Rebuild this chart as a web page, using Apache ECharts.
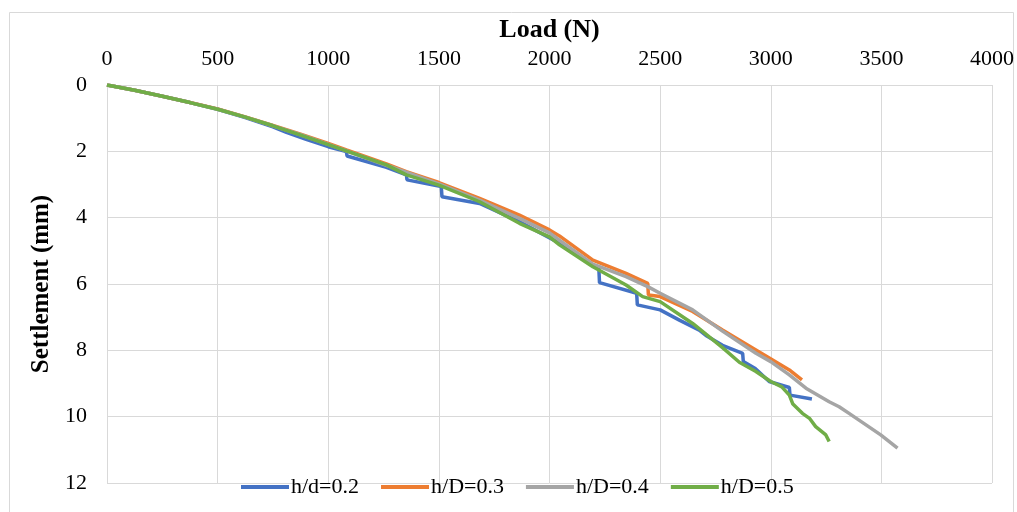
<!DOCTYPE html>
<html>
<head>
<meta charset="utf-8">
<script src="https://cdn.jsdelivr.net/npm/echarts@6/dist/echarts.min.js"></script>
<style>
html,body{margin:0;padding:0;background:#fff;}
#chart{width:1017px;height:512px;}
</style>
</head>
<body>
<div id="chart"></div>
<script>
// ---- data ----
const seriesNames = ['h/d=0.2', 'h/D=0.3', 'h/D=0.4', 'h/D=0.5'];
const xTicks = [0, 500, 1000, 1500, 2000, 2500, 3000, 3500, 4000];
const yTicks = [0, 2, 4, 6, 8, 10, 12];

const hd02 = [[0,0],[125,0.16],[250,0.34],[375,0.53],[500,0.73],[625,0.98],[750,1.26],[811,1.43],[900,1.64],[1000,1.86],[1082,2.01],[1085,2.14],[1263,2.48],[1353,2.71],[1356,2.86],[1511,3.06],[1514,3.37],[1684,3.57],[1864,4.12],[2045,4.77],[2223,5.53],[2226,5.96],[2394,6.28],[2397,6.63],[2500,6.78],[2587,7.09],[2677,7.39],[2707,7.55],[2782,7.85],[2873,8.09],[2876,8.34],[2930,8.55],[2993,8.94],[3084,9.12],[3087,9.35],[3186,9.47]];
const hD03 = [[0,0],[125,0.16],[250,0.34],[375,0.53],[500,0.72],[625,0.96],[750,1.22],[875,1.48],[1000,1.76],[1082,1.96],[1263,2.38],[1353,2.61],[1500,2.94],[1684,3.42],[1864,3.92],[2000,4.37],[2045,4.55],[2196,5.28],[2346,5.68],[2444,5.98],[2447,6.33],[2500,6.38],[2647,6.83],[2782,7.39],[2933,7.99],[3084,8.59],[3141,8.89]];
const hD04 = [[0,0],[125,0.16],[250,0.34],[375,0.53],[500,0.73],[625,0.97],[750,1.23],[875,1.50],[1000,1.79],[1263,2.42],[1500,2.98],[1684,3.47],[1864,4.02],[2000,4.46],[2045,4.68],[2196,5.40],[2346,5.78],[2444,6.08],[2500,6.28],[2647,6.78],[2782,7.42],[2933,8.09],[3000,8.34],[3084,8.74],[3159,9.14],[3264,9.55],[3309,9.70],[3354,9.90],[3497,10.55],[3573,10.95]];
const hD05 = [[0,0],[125,0.16],[250,0.34],[375,0.53],[500,0.73],[625,0.97],[750,1.23],[875,1.51],[1000,1.80],[1263,2.41],[1353,2.71],[1500,3.02],[1684,3.52],[1864,4.17],[2000,4.58],[2045,4.82],[2196,5.48],[2346,6.03],[2421,6.38],[2500,6.53],[2647,7.19],[2782,7.92],[2858,8.36],[2933,8.64],[3000,8.94],[3050,9.10],[3084,9.35],[3100,9.62],[3143,9.90],[3175,10.05],[3203,10.30],[3249,10.55],[3264,10.75]];

const colors = ['#4472C4', '#ED7D31', '#A5A5A5', '#70AD47'];
const allData = [hd02, hD03, hD04, hD05];

const serif = "'Liberation Serif','Times New Roman',serif";
const chart = echarts.init(document.getElementById('chart'), null, {renderer:'canvas'});
chart.setOption({
  animation: false,
  backgroundColor: '#fff',
  graphic: [{
    type: 'rect', left: 7, top: 10,
    shape: {width: 1004, height: 520},
    style: {fill: 'none', stroke: '#D9D9D9', lineWidth: 1},
    z: -1
  }],
  grid: {left: 107, right: 24, top: 85, bottom: 29, containLabel: false},
  legend: {
    left: 236, top: 471,
    itemWidth: 48, itemHeight: 4, itemGap: 22,
    icon: 'rect',
    textStyle: {fontFamily: serif, fontSize: 22, color: '#000', padding: [0,0,0,-3]},
    data: seriesNames
  },
  xAxis: {
    type: 'value', position: 'top',
    min: xTicks[0], max: xTicks[xTicks.length-1], interval: 500,
    name: 'Load (N)', nameLocation: 'middle', nameGap: 33,
    nameTextStyle: {fontFamily: serif, fontSize: 26, fontWeight: 'bold', color: '#000'},
    axisLine: {show: true, lineStyle: {color: '#D9D9D9'}},
    axisTick: {show: false},
    axisLabel: {fontFamily: serif, fontSize: 22, color: '#000', margin: 15, formatter: v => String(v)},
    splitLine: {show: true, lineStyle: {color: '#D9D9D9', width: 1}}
  },
  yAxis: {
    type: 'value', inverse: true,
    min: yTicks[0], max: yTicks[yTicks.length-1], interval: 2,
    name: 'Settlement (mm)', nameLocation: 'middle', nameGap: 47,
    nameTextStyle: {fontFamily: serif, fontSize: 25, fontWeight: 'bold', color: '#000'},
    axisLine: {show: true, lineStyle: {color: '#D9D9D9'}},
    axisTick: {show: false},
    axisLabel: {fontFamily: serif, fontSize: 22, color: '#000', margin: 20, formatter: v => String(v)},
    splitLine: {show: true, lineStyle: {color: '#D9D9D9', width: 1}}
  },
  series: seriesNames.map((n, i) => ({
    name: n, type: 'line', data: allData[i],
    showSymbol: false, symbol: 'none',
    lineStyle: {color: colors[i], width: 3.5},
    itemStyle: {color: colors[i]},
    z: 2 + i
  }))
});
</script>
</body>
</html>
